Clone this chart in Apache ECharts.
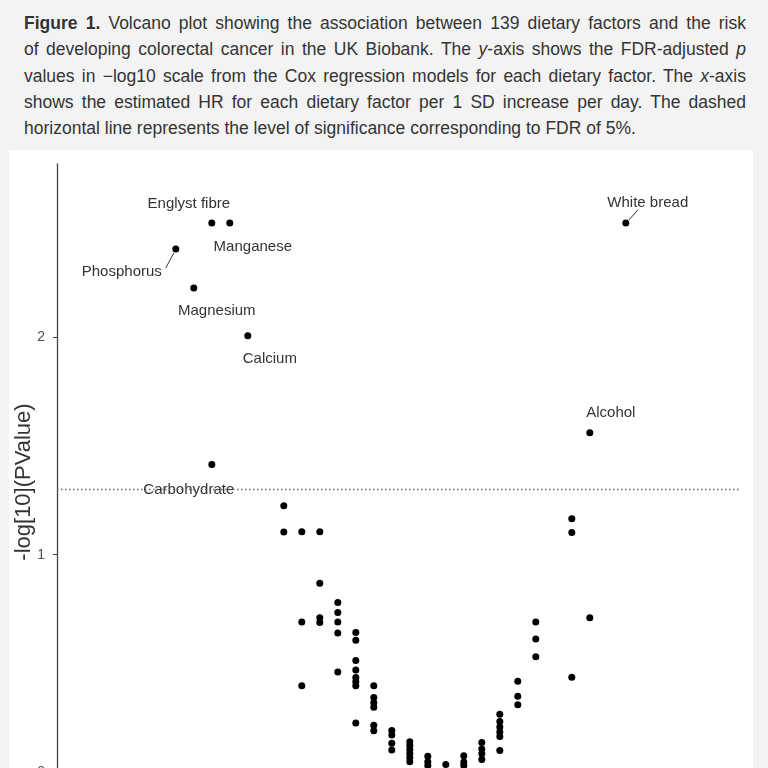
<!DOCTYPE html>
<html>
<head>
<meta charset="utf-8">
<script src="https://cdn.jsdelivr.net/npm/echarts@6/dist/echarts.min.js"></script>
<style>
  html, body { margin: 0; padding: 0; width: 768px; height: 768px; overflow: hidden; background: #f3f3f3; }
  #caption { position: absolute; left: 24px; top: 10px; width: 722px; font-family: "Liberation Sans", Arial, sans-serif; font-size: 17.5px; line-height: 26.25px; color: #333; }
  #caption .ln { text-align: justify; text-align-last: justify; white-space: nowrap; }
  #caption .ln.last { text-align-last: left; }
  #chart { position: absolute; left: 9px; top: 150px; width: 744px; height: 700px; background: #fff; }
</style>
</head>
<body>
<div id="caption">
  <div class="ln"><b>Figure 1.</b> Volcano plot showing the association between 139 dietary factors and the risk</div>
  <div class="ln">of developing colorectal cancer in the UK Biobank. The <i>y</i>-axis shows the FDR-adjusted <i>p</i></div>
  <div class="ln">values in −log10 scale from the Cox regression models for each dietary factor. The <i>x</i>-axis</div>
  <div class="ln">shows the estimated HR for each dietary factor per 1 SD increase per day. The dashed</div>
  <div class="ln last">horizontal line represents the level of significance corresponding to FDR of 5%.</div>
</div>
<div id="chart"></div>
<script>
// ---- data ----
const hazardRatio = [
  0.85, 0.86, 0.87, 0.87, 0.88, 0.89,
  0.91, 0.91,
  0.92, 0.92, 0.92,
  0.93, 0.93, 0.93, 0.93,
  0.94, 0.94, 0.94, 0.94, 0.94,
  0.95, 0.95, 0.95, 0.95, 0.95, 0.95, 0.95, 0.95,
  0.96, 0.96, 0.96, 0.96, 0.96, 0.96,
  0.97, 0.97, 0.97, 0.97,
  0.98, 0.98, 0.98, 0.98, 0.98, 0.98,
  0.99, 0.99, 0.99,
  1.00,
  1.01, 1.01, 1.01,
  1.02, 1.02, 1.02, 1.02,
  1.03, 1.03, 1.03, 1.03, 1.03, 1.03,
  1.04, 1.04, 1.04,
  1.05, 1.05, 1.05,
  1.07, 1.07, 1.07,
  1.08, 1.08,
  1.10
];
const negLog10P = [
  2.404, 2.225, 2.523, 1.414, 2.523, 2.005,
  1.225, 1.104,
  1.106, 0.691, 0.399,
  1.106, 0.869, 0.711, 0.689,
  0.781, 0.735, 0.691, 0.641, 0.462,
  0.643, 0.607, 0.515, 0.471, 0.436, 0.417, 0.399, 0.228,
  0.399, 0.345, 0.320, 0.300, 0.217, 0.192,
  0.193, 0.172, 0.135, 0.104,
  0.142, 0.124, 0.106, 0.087, 0.069, 0.050,
  0.075, 0.050, 0.032,
  0.037,
  0.077, 0.048, 0.032,
  0.138, 0.108, 0.086, 0.060,
  0.268, 0.234, 0.209, 0.186, 0.165, 0.101,
  0.419, 0.350, 0.311,
  0.691, 0.613, 0.532,
  1.165, 1.102, 0.437,
  1.560, 0.711,
  2.523
];
const factorLabel = [
  'Phosphorus', 'Magnesium', 'Englyst fibre', 'Carbohydrate', 'Manganese', 'Calcium',
  '', '',
  '', '', '',
  '', '', '', '',
  '', '', '', '', '',
  '', '', '', '', '', '', '', '',
  '', '', '', '', '', '',
  '', '', '', '',
  '', '', '', '', '', '',
  '', '', '',
  '',
  '', '', '',
  '', '', '', '',
  '', '', '', '', '', '',
  '', '', '',
  '', '', '',
  '', '', '',
  'Alcohol', '',
  'White bread'
];
const yTickValues = [0, 1, 2];
const fdrThreshold = -Math.log10(0.05);

// ---- label placement (styling, not data) ----
const labelShift = {
  'Englyst fibre': [-23, -19],
  'Manganese': [23, 24],
  'Phosphorus': [-54, 23],
  'Magnesium': [23, 23],
  'Calcium': [22, 23],
  'Carbohydrate': [-23, 25],
  'White bread': [22, -20],
  'Alcohol': [21, -20]
};
// connector segments (pixel offsets from the point): [x1, y1, x2, y2]
const connectorShift = {
  'Phosphorus': [-2, 4, -10, 19],
  'White bread': [3, -3, 12, -13]
};

const points = hazardRatio.map((x, i) => {
  const name = factorLabel[i];
  const item = { value: [x, negLog10P[i]], name: name };
  if (name) {
    item.label = {
      show: true,
      formatter: name,
      backgroundColor: name === 'Carbohydrate' ? '#fff' : 'transparent',
      padding: name === 'Carbohydrate' ? [0, 2] : 0
    };
  }
  return item;
});
const connectorData = [];
hazardRatio.forEach((x, i) => {
  if (connectorShift[factorLabel[i]]) connectorData.push({ value: [x, negLog10P[i]], name: factorLabel[i] });
});

const chart = echarts.init(document.getElementById('chart'), null, { renderer: 'canvas' });
chart.setOption({
  animation: false,
  backgroundColor: '#fff',
  textStyle: { fontFamily: '"Liberation Sans", Arial, sans-serif' },
  grid: { left: 48, right: 12, top: 14, bottom: 50, containLabel: false, outerBoundsMode: 'none' },
  xAxis: {
    type: 'value',
    min: 0.784,
    max: 1.164,
    axisLine: { show: true, lineStyle: { color: '#444', width: 1.3 } },
    axisTick: { show: false },
    axisLabel: { show: false },
    splitLine: { show: false }
  },
  yAxis: {
    type: 'value',
    min: -0.126,
    max: 2.794,
    name: '-log[10](PValue)',
    nameLocation: 'middle',
    nameGap: 22,
    nameMoveOverlap: false,
    nameTextStyle: { fontSize: 22, color: '#333' },
    axisLine: { show: true, lineStyle: { color: '#444', width: 1.3 } },
    axisTick: { show: true, length: 4, customValues: yTickValues, lineStyle: { color: '#444' } },
    axisLabel: { customValues: yTickValues, fontSize: 14, color: '#4d4d4d', margin: 12 },
    splitLine: { show: false }
  },
  series: [
    {
      type: 'scatter',
      z: 1,
      data: [],
      silent: true,
      markLine: {
        silent: true,
        symbol: 'none',
        label: { show: false },
        lineStyle: { type: [1.5, 2.5], color: '#6a6a6a', width: 1.3 },
        data: [{ yAxis: fdrThreshold }]
      }
    },
    {
      type: 'custom',
      z: 2,
      silent: true,
      data: connectorData,
      renderItem: function (params, api) {
        const p = api.coord([api.value(0), api.value(1)]);
        const s = connectorShift[connectorData[params.dataIndex].name];
        return {
          type: 'line',
          shape: { x1: p[0] + s[0], y1: p[1] + s[1], x2: p[0] + s[2], y2: p[1] + s[3] },
          style: { stroke: '#333', lineWidth: 1 }
        };
      }
    },
    {
      type: 'scatter',
      z: 3,
      symbolSize: 7,
      itemStyle: { color: '#000', opacity: 1 },
      label: { show: false, position: 'inside', fontSize: 15, color: '#333' },
      labelLayout: function (p) {
        const s = labelShift[factorLabel[p.dataIndex]];
        return s ? { dx: s[0], dy: s[1] } : {};
      },
      data: points
    }
  ]
});
</script>
</body>
</html>
